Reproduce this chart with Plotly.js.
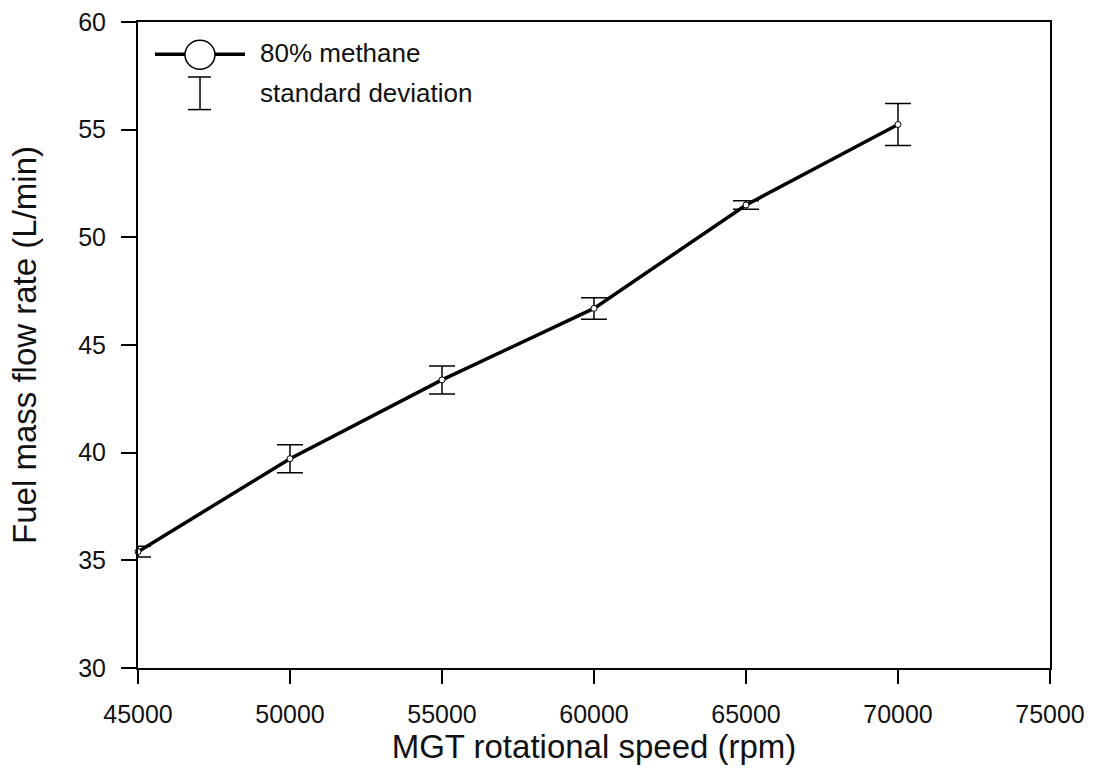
<!DOCTYPE html>
<html>
<head>
<meta charset="utf-8">
<script src="https://cdn.plot.ly/plotly-3.0.1.min.js"></script>
<style>
html, body { margin: 0; padding: 0; background: #fff; }
#chart { width: 1094px; height: 774px; }
</style>
</head>
<body>
<div id="chart"></div>
<script>
// Data
var speedRpm = [45000, 50000, 55000, 60000, 65000, 70000];
var fuelFlow = [35.4, 39.72, 43.38, 46.7, 51.5, 55.24];
var stdDev = [0.25, 0.65, 0.65, 0.5, 0.2, 0.97];

var xTicks = [45000, 50000, 55000, 60000, 65000, 70000, 75000];
var yTicks = [30, 35, 40, 45, 50, 55, 60];

var seriesLabel = "80% methane";
var errorLabel = "standard deviation";
var xTitle = "MGT rotational speed (rpm)";
var yTitle = "Fuel mass flow rate (L/min)";

var FONT = "Arial, 'Liberation Sans', sans-serif";
var INK = "#111";

var trace = {
  x: speedRpm,
  y: fuelFlow,
  type: "scatter",
  mode: "lines+markers",
  name: seriesLabel,
  line: { color: "#000", width: 3.5 },
  marker: { symbol: "circle", size: 6, color: "#fff", line: { color: "#000", width: 1 } },
  error_y: { type: "data", array: stdDev, visible: true, color: "#000", thickness: 1.5, width: 13 },
  showlegend: false,
  cliponaxis: false
};

// Hand-drawn legend (paper coordinates)
var shapes = [
  { type: "line", xref: "paper", yref: "paper", x0: 0.0186, x1: 0.1173, y0: 0.950, y1: 0.950, line: { color: "#000", width: 3.5 } },
  { type: "circle", xref: "paper", yref: "paper", x0: 0.0515, x1: 0.0844, y0: 0.9268, y1: 0.9717, fillcolor: "#fff", line: { color: "#000", width: 1.5 } },
  { type: "line", xref: "paper", yref: "paper", x0: 0.068, x1: 0.068, y0: 0.8644, y1: 0.9149, line: { color: "#000", width: 1.5 } },
  { type: "line", xref: "paper", yref: "paper", x0: 0.0548, x1: 0.080, y0: 0.9149, y1: 0.9149, line: { color: "#000", width: 1.5 } },
  { type: "line", xref: "paper", yref: "paper", x0: 0.0548, x1: 0.080, y0: 0.8644, y1: 0.8644, line: { color: "#000", width: 1.5 } }
];

var annotations = [
  { xref: "paper", yref: "paper", x: 0.1316, y: 0.9516, xanchor: "left", yanchor: "middle", text: seriesLabel, showarrow: false, font: { family: FONT, size: 26, color: INK } },
  { xref: "paper", yref: "paper", x: 0.1316, y: 0.8896, xanchor: "left", yanchor: "middle", text: errorLabel, showarrow: false, font: { family: FONT, size: 26, color: INK } }
];

var layout = {
  width: 1094,
  height: 774,
  margin: { l: 138, r: 44, t: 22, b: 106 },
  paper_bgcolor: "#fff",
  plot_bgcolor: "#fff",
  showlegend: false,
  font: { family: FONT, color: INK },
  xaxis: {
    range: [45000, 75000],
    tickmode: "array",
    tickvals: xTicks,
    ticktext: xTicks.map(String),
    ticks: "outside",
    ticklen: 14,
    tickwidth: 2,
    tickcolor: "#000",
    showline: true,
    linecolor: "#000",
    linewidth: 2,
    mirror: true,
    showgrid: false,
    zeroline: false,
    tickfont: { family: FONT, size: 25, color: INK },
    ticklabelstandoff: 9,
    title: { text: xTitle, font: { family: FONT, size: 33, color: INK }, standoff: 0 },
    automargin: false
  },
  yaxis: {
    range: [30, 60],
    tickmode: "array",
    tickvals: yTicks,
    ticktext: yTicks.map(String),
    ticks: "outside",
    ticklen: 15,
    tickwidth: 2,
    tickcolor: "#000",
    showline: true,
    linecolor: "#000",
    linewidth: 2,
    mirror: true,
    showgrid: false,
    zeroline: false,
    tickfont: { family: FONT, size: 25, color: INK },
    ticklabelstandoff: 10,
    title: { text: yTitle, font: { family: FONT, size: 33, color: INK }, standoff: 32 },
    automargin: false
  },
  shapes: shapes,
  annotations: annotations
};

Plotly.newPlot("chart", [trace], layout, { displayModeBar: false, staticPlot: true });
</script>
</body>
</html>
